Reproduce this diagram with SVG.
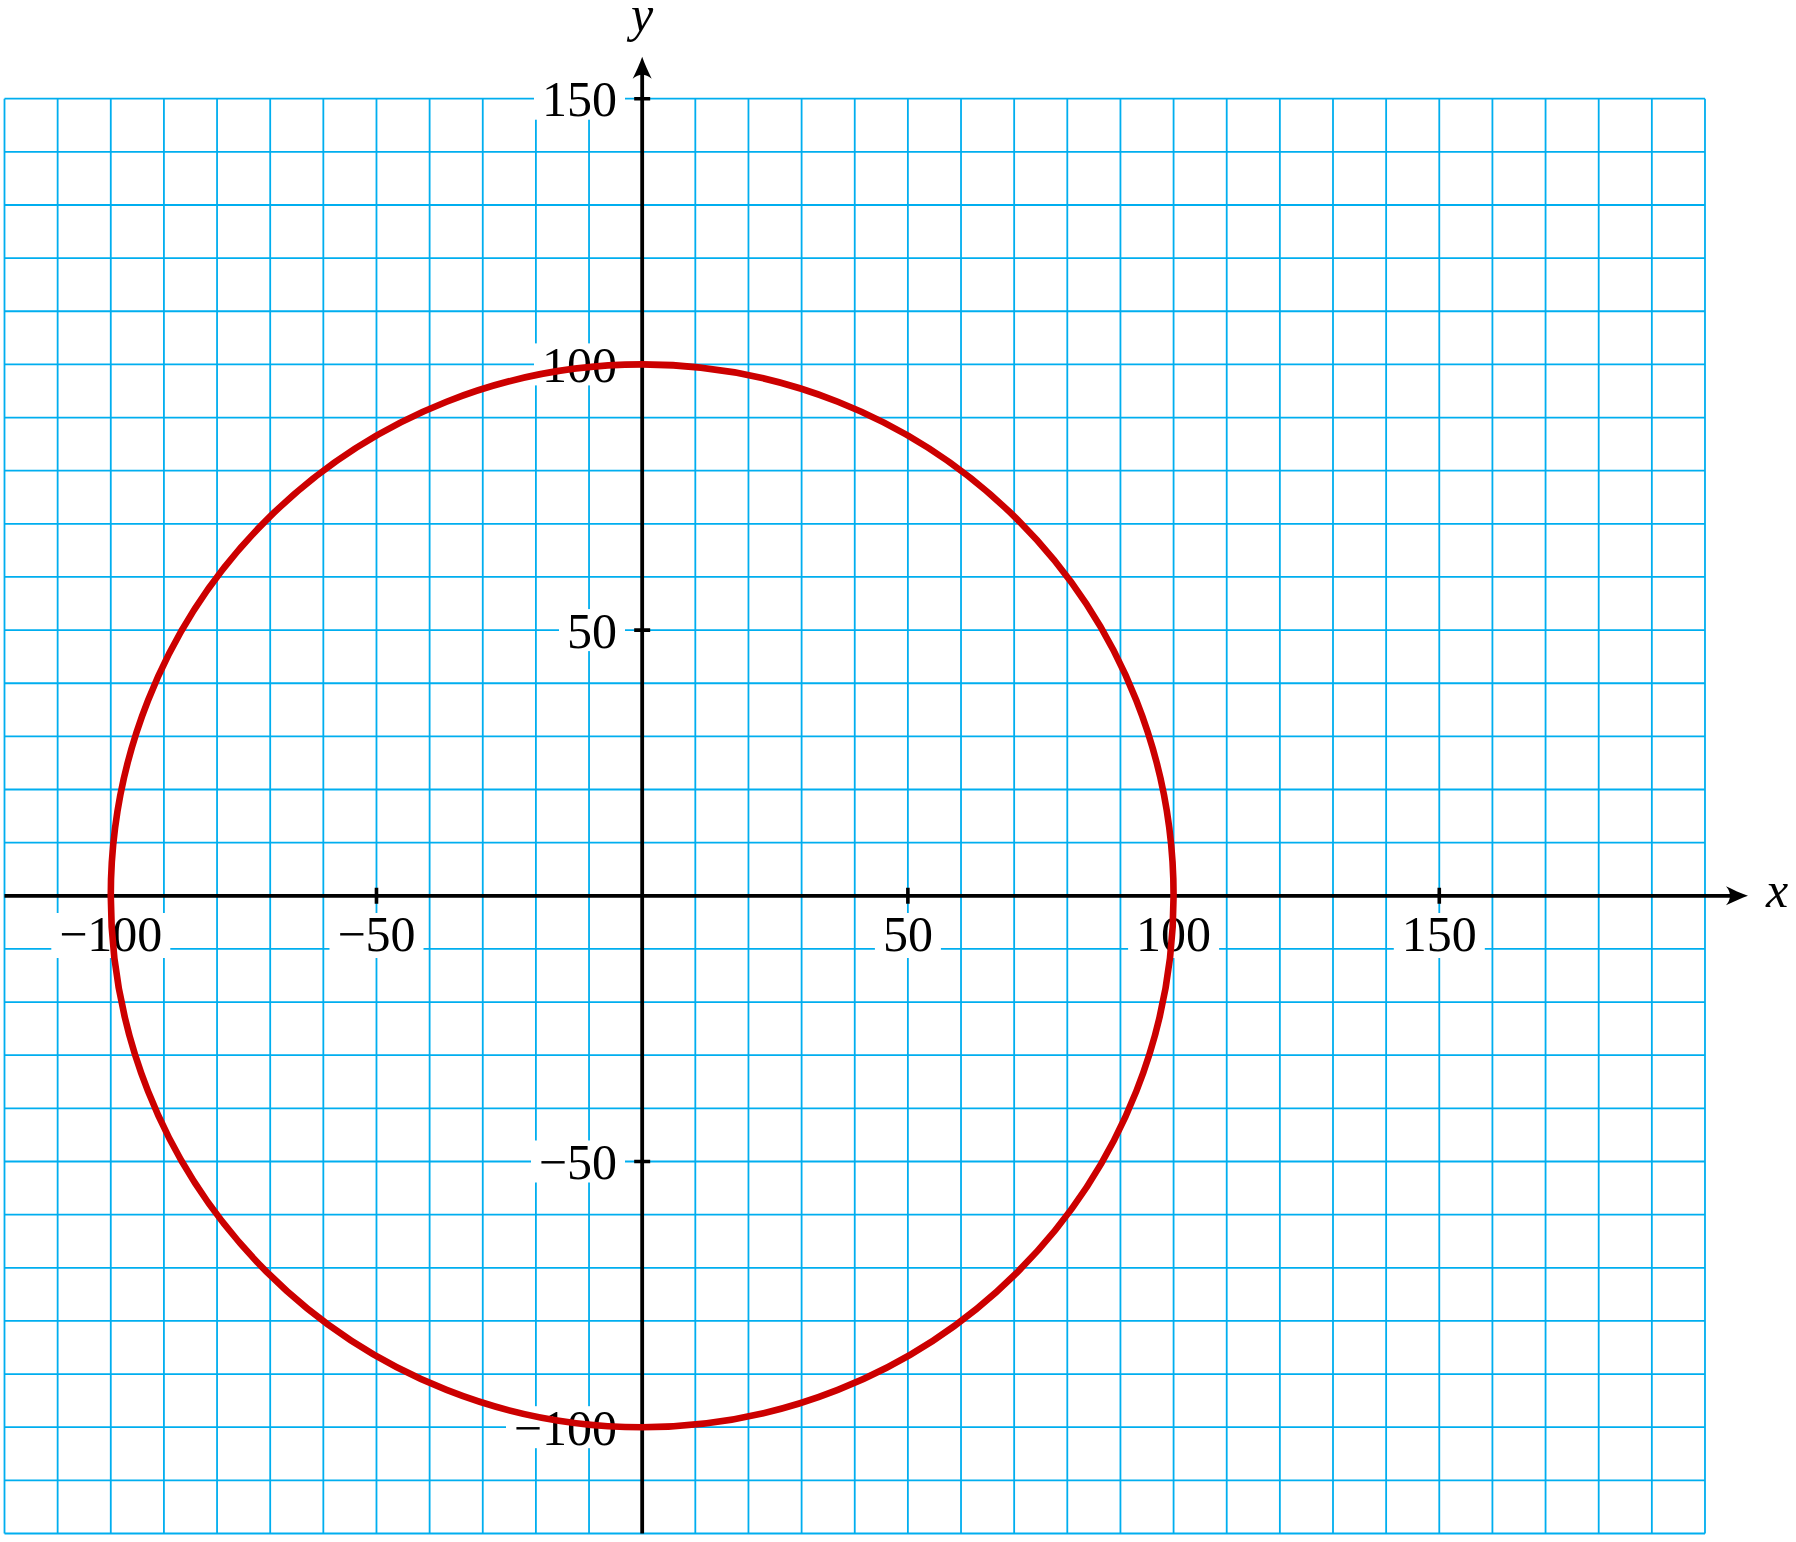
<svg xmlns="http://www.w3.org/2000/svg" width="1796" height="1542" viewBox="0 0 1796 1542">
<style>
.grid{fill:none;stroke:#00aeef;stroke-width:1.8}
.axis{fill:none;stroke:#000;stroke-width:3.8}
.tick{fill:none;stroke:#000;stroke-width:3.6}
.bg{fill:#fff;stroke:none}
.lbl{font-family:"Liberation Serif","DejaVu Serif",serif;font-size:50px;fill:#000}
.xl{text-anchor:middle}
.yl{text-anchor:end}
.var{font-family:"Liberation Serif","DejaVu Serif",serif;font-size:50px;font-style:italic;fill:#000}
.curve{fill:none;stroke:#cc0000;stroke-width:6.6}
</style>
<defs>
<marker id="arr" markerUnits="userSpaceOnUse" markerWidth="30" markerHeight="24" viewBox="-24 -12 30 24" refX="-10" refY="0" orient="auto" overflow="visible">
<path d="M0,0 C-7,-2.5 -15,-6 -22,-9.5 Q-14,0 -22,9.5 C-15,6 -7,2.5 0,0Z" fill="#000"/>
</marker>
</defs>
<rect width="1796" height="1542" fill="#fff"/>
<g id="grid">
<path class="grid" d="M4.5 98.7V1533.48M57.64 98.7V1533.48M110.78 98.7V1533.48M163.92 98.7V1533.48M217.06 98.7V1533.48M270.2 98.7V1533.48M323.34 98.7V1533.48M376.48 98.7V1533.48M429.62 98.7V1533.48M482.76 98.7V1533.48M535.9 98.7V1533.48M589.04 98.7V1533.48M642.18 98.7V1533.48M695.32 98.7V1533.48M748.46 98.7V1533.48M801.6 98.7V1533.48M854.74 98.7V1533.48M907.88 98.7V1533.48M961.02 98.7V1533.48M1014.16 98.7V1533.48M1067.3 98.7V1533.48M1120.44 98.7V1533.48M1173.58 98.7V1533.48M1226.72 98.7V1533.48M1279.86 98.7V1533.48M1333 98.7V1533.48M1386.14 98.7V1533.48M1439.28 98.7V1533.48M1492.42 98.7V1533.48M1545.56 98.7V1533.48M1598.7 98.7V1533.48M1651.84 98.7V1533.48M1704.98 98.7V1533.48"/>
<path class="grid" d="M4.5 98.7H1704.98M4.5 151.84H1704.98M4.5 204.98H1704.98M4.5 258.12H1704.98M4.5 311.26H1704.98M4.5 364.4H1704.98M4.5 417.54H1704.98M4.5 470.68H1704.98M4.5 523.82H1704.98M4.5 576.96H1704.98M4.5 630.1H1704.98M4.5 683.24H1704.98M4.5 736.38H1704.98M4.5 789.52H1704.98M4.5 842.66H1704.98M4.5 895.8H1704.98M4.5 948.94H1704.98M4.5 1002.08H1704.98M4.5 1055.22H1704.98M4.5 1108.36H1704.98M4.5 1161.5H1704.98M4.5 1214.64H1704.98M4.5 1267.78H1704.98M4.5 1320.92H1704.98M4.5 1374.06H1704.98M4.5 1427.2H1704.98M4.5 1480.34H1704.98M4.5 1533.48H1704.98"/>
</g>
<g id="label-backgrounds">
<rect class="bg" x="51.3" y="913" width="119" height="45"/>
<rect class="bg" x="329.5" y="913" width="94" height="45"/>
<rect class="bg" x="874.9" y="913" width="66" height="45"/>
<rect class="bg" x="1128.1" y="913" width="91" height="45"/>
<rect class="bg" x="1393.8" y="913" width="91" height="45"/>
<rect class="bg" x="534" y="77.7" width="91" height="42"/>
<rect class="bg" x="534" y="343.4" width="91" height="42"/>
<rect class="bg" x="559" y="609.1" width="66" height="42"/>
<rect class="bg" x="531" y="1140.5" width="94" height="42"/>
<rect class="bg" x="506" y="1406.2" width="119" height="42"/>
</g>
<g id="axes">
<line class="axis" x1="4.5" y1="895.8" x2="1738" y2="895.8" marker-end="url(#arr)"/>
<line class="axis" x1="642.18" y1="1533.48" x2="642.18" y2="66.7" marker-end="url(#arr)"/>
<path class="tick" d="M110.78 887.8V903.8M376.48 887.8V903.8M907.88 887.8V903.8M1173.58 887.8V903.8M1439.28 887.8V903.8M634.18 98.7H650.18M634.18 364.4H650.18M634.18 630.1H650.18M634.18 1161.5H650.18M634.18 1427.2H650.18"/>
</g>
<g id="labels">
<text class="lbl xl" x="110.78" y="950.5">−100</text>
<text class="lbl xl" x="376.48" y="950.5">−50</text>
<text class="lbl xl" x="907.88" y="950.5">50</text>
<text class="lbl xl" x="1173.58" y="950.5">100</text>
<text class="lbl xl" x="1439.28" y="950.5">150</text>
<text class="lbl yl" x="617" y="116.2">150</text>
<text class="lbl yl" x="617" y="381.9">100</text>
<text class="lbl yl" x="617" y="647.6">50</text>
<text class="lbl yl" x="617" y="1179">−50</text>
<text class="lbl yl" x="617" y="1444.7">−100</text>
<text class="var" x="1766" y="906.5">x</text>
<text class="var" x="642" y="31" text-anchor="middle">y</text>
</g>
<g id="circle">
<circle class="curve" cx="642.18" cy="895.8" r="531.4"/>
</g>
</svg>
